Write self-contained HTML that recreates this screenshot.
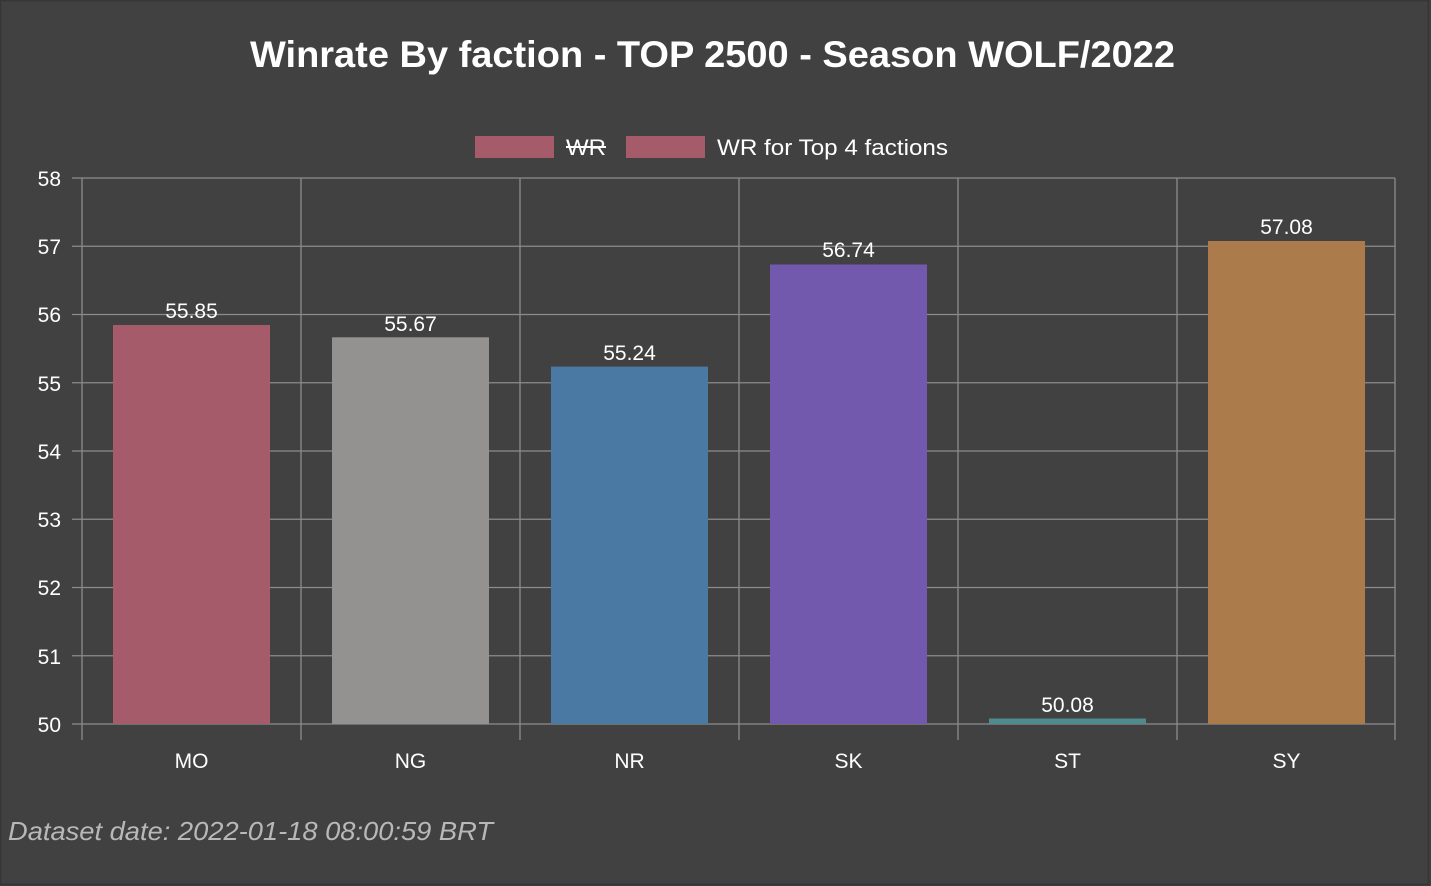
<!DOCTYPE html>
<html><head><style>
html,body{margin:0;padding:0;background:#414141;}
svg{display:block;font-family:"Liberation Sans",Arial,sans-serif;}
</style></head><body>
<svg width="1431" height="886" viewBox="0 0 1431 886">
<rect x="0" y="0" width="1431" height="886" fill="#414141"/>
<rect x="0.5" y="0.5" width="1428" height="884" fill="none" stroke="#363636" stroke-width="2"/>
<text x="250" y="67" font-size="37" font-weight="bold" fill="#ffffff" textLength="925" lengthAdjust="spacingAndGlyphs">Winrate By faction - TOP 2500 - Season WOLF/2022</text>
<rect x="475" y="136" width="79" height="22" fill="#a65b6b"/>
<text x="566" y="155" font-size="22" fill="#ffffff" textLength="40" lengthAdjust="spacingAndGlyphs">WR</text>
<line x1="566" y1="147" x2="606" y2="147" stroke="#ffffff" stroke-width="2"/>
<rect x="626" y="136" width="79" height="22" fill="#a65b6b"/>
<text x="717" y="155" font-size="22" fill="#ffffff" textLength="231" lengthAdjust="spacingAndGlyphs">WR for Top 4 factions</text>
<g stroke="#8c8c8c" stroke-width="1.3">
<line x1="72" y1="178" x2="1395" y2="178"/>
<line x1="72" y1="246.25" x2="1395" y2="246.25"/>
<line x1="72" y1="314.5" x2="1395" y2="314.5"/>
<line x1="72" y1="382.75" x2="1395" y2="382.75"/>
<line x1="72" y1="451" x2="1395" y2="451"/>
<line x1="72" y1="519.25" x2="1395" y2="519.25"/>
<line x1="72" y1="587.5" x2="1395" y2="587.5"/>
<line x1="72" y1="655.75" x2="1395" y2="655.75"/>
<line x1="72" y1="724" x2="1395" y2="724"/>
<line x1="82" y1="178" x2="82" y2="740"/>
<line x1="301" y1="178" x2="301" y2="740"/>
<line x1="520" y1="178" x2="520" y2="740"/>
<line x1="739" y1="178" x2="739" y2="740"/>
<line x1="958" y1="178" x2="958" y2="740"/>
<line x1="1177" y1="178" x2="1177" y2="740"/>
<line x1="1395" y1="178" x2="1395" y2="740"/>
</g>
<g font-size="21" fill="#ffffff" text-anchor="end">
<text x="61" y="186">58</text><text x="61" y="254">57</text><text x="61" y="322">56</text>
<text x="61" y="391">55</text><text x="61" y="459">54</text><text x="61" y="527">53</text>
<text x="61" y="595">52</text><text x="61" y="664">51</text><text x="61" y="732">50</text>
</g>
<rect x="113" y="325" width="157" height="399" fill="#a65b6b"/>
<rect x="332" y="337.3" width="157" height="386.7" fill="#939291"/>
<rect x="551" y="366.6" width="157" height="357.4" fill="#4a7aa3"/>
<rect x="770" y="264.5" width="157" height="459.5" fill="#7359ad"/>
<rect x="989" y="718.5" width="157" height="5.5" fill="#4f8a8c"/>
<rect x="1208" y="241" width="157" height="483" fill="#ab7b4c"/>
<g font-size="21" fill="#ffffff" text-anchor="middle">
<text x="191.5" y="318">55.85</text>
<text x="410.5" y="331">55.67</text>
<text x="629.5" y="360">55.24</text>
<text x="848.5" y="257">56.74</text>
<text x="1067.5" y="712">50.08</text>
<text x="1286.5" y="234">57.08</text>
<text x="191.5" y="768">MO</text>
<text x="410.5" y="768">NG</text>
<text x="629.5" y="768">NR</text>
<text x="848.5" y="768">SK</text>
<text x="1067.5" y="768">ST</text>
<text x="1286.5" y="768">SY</text>
</g>
<text x="8" y="840" font-size="26" font-style="italic" fill="#b8b8b8" textLength="485" lengthAdjust="spacingAndGlyphs">Dataset date: 2022-01-18 08:00:59 BRT</text>
</svg>
</body></html>
